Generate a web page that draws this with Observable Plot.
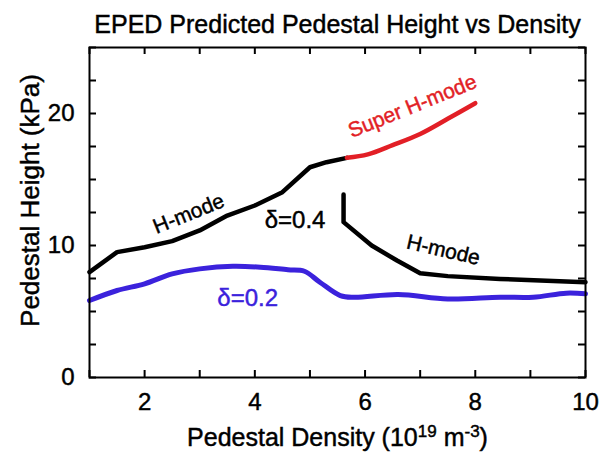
<!DOCTYPE html>
<html>
<head>
<meta charset="utf-8">
<script src="https://cdn.jsdelivr.net/npm/d3@7"></script>
<script src="https://cdn.jsdelivr.net/npm/@observablehq/plot@0.6"></script>
<style>
  html, body { margin: 0; padding: 0; background: #fff; }
  #chart svg { display: block; }
</style>
</head>
<body>
<div id="chart"></div>
<script>
// δ=0.4, lower H-mode branch (black)
const hmodeLowDensity = [1.0, 1.5, 2.0, 2.5, 3.0, 3.5, 4.0, 4.5, 5.0, 5.3, 5.67];
const hmodeLowHeight  = [7.98, 9.5, 9.87, 10.33, 11.14, 12.27, 13.03, 14.04, 15.93, 16.31, 16.64];
// δ=0.4, Super H-mode branch (red)
const superDensity = [5.67, 6.05, 6.5, 7.0, 7.5, 8.0];
const superHeight  = [16.64, 16.9, 17.6, 18.45, 19.6, 20.78];
// δ=0.4, upper-density H-mode branch (black)
const hmodeHighDensity = [5.61, 5.61, 6.12, 6.58, 7.0, 7.5, 8.45, 10.0];
const hmodeHighHeight  = [13.86, 11.77, 10.0, 8.86, 7.9, 7.68, 7.47, 7.22];
// δ=0.2 (blue)
const d02Density = [1.0, 1.5, 2.0, 2.5, 3.0, 3.6, 4.1, 4.6, 4.9, 5.18, 5.55, 5.8, 6.6, 7.5, 8.45, 9.05, 9.65, 10.0];
const d02Height  = [5.83, 6.59, 7.1, 7.85, 8.23, 8.43, 8.36, 8.16, 8.05, 7.22, 6.21, 6.08, 6.29, 5.95, 6.08, 6.08, 6.39, 6.34];

// ticks
const xTicks = [1, 2, 3, 4, 5, 6, 7, 8, 9, 10];
const xTickLabels = [2, 4, 6, 8, 10];
const yTicks = [0, 2.5, 5, 7.5, 10, 12.5, 15, 17.5, 20, 22.5, 25];
const yTickLabels = [0, 10, 20];

// annotations
const annText = ["H-mode", "δ=0.4", "Super H-mode", "H-mode", "δ=0.2"];
const annX = [2.8, 4.73, 6.86, 7.42, 3.87];
const annY = [12.4, 11.9, 20.55, 9.65, 5.98];
const annRotate = [-22, 0, -22, 13, 0];
const annSize = [21, 24, 21, 21, 24];
const annColor = ["#000", "#000", "#e21f26", "#000", "#3b22dc"];

const zip = (xs, ys) => xs.map((x, i) => ({x, y: ys[i]}));
const ann = annText.map((t, i) => ({t, x: annX[i], y: annY[i], r: annRotate[i], s: annSize[i], c: annColor[i]}));

const W = 612, H = 452, mL = 89, mR = 27, mT = 47, mB = 75;
const fw = W - mL - mR, fh = H - mT - mB, tk = 7;

const plot = Plot.plot({
  width: W, height: H,
  marginLeft: mL, marginRight: mR, marginTop: mT, marginBottom: mB,
  style: {fontFamily: "'Liberation Sans', Arial, Helvetica, sans-serif", background: "#fff", color: "#000"},
  x: {domain: [1, 10]},
  y: {domain: [0, 25]},
  marks: [
    // inward ticks
    Plot.tickX(xTicks, {x: d => d, insetTop: fh - tk, stroke: "#000", strokeWidth: 2}),
    Plot.tickX(xTicks, {x: d => d, insetBottom: fh - tk, stroke: "#000", strokeWidth: 2}),
    Plot.tickY(yTicks, {y: d => d, insetRight: fw - tk, stroke: "#000", strokeWidth: 2}),
    Plot.tickY(yTicks, {y: d => d, insetLeft: fw - tk, stroke: "#000", strokeWidth: 2}),
    Plot.axisX({ticks: xTickLabels, tickSize: 0, tickPadding: 15, fontSize: 24, label: null}),
    Plot.axisY({ticks: yTickLabels, tickSize: 0, tickPadding: 15, fontSize: 24, label: null}),
    // curves
    Plot.line(zip(d02Density, d02Height), {x: "x", y: "y", stroke: "#3b22dc", strokeWidth: 5, curve: "catmull-rom"}),
    Plot.line(zip(hmodeLowDensity, hmodeLowHeight), {x: "x", y: "y", stroke: "#000", strokeWidth: 4.5, strokeLinejoin: "round"}),
    Plot.line(zip(superDensity, superHeight), {x: "x", y: "y", stroke: "#e21f26", strokeWidth: 4.5, curve: "catmull-rom"}),
    Plot.line(zip(hmodeHighDensity, hmodeHighHeight), {x: "x", y: "y", stroke: "#000", strokeWidth: 4.5, strokeLinejoin: "round"}),
    // annotations
    Plot.text(ann, {x: "x", y: "y", text: "t", rotate: "r", fontSize: d => d.s, fill: "c"}),
    Plot.frame({stroke: "#000", strokeWidth: 2}),
    // title and axis labels
    Plot.text(["EPED Predicted Pedestal Height vs Density"], {frameAnchor: "top", textAnchor: "middle", lineAnchor: "middle", dy: -23, fontSize: 25, fill: "#000"}),
    Plot.text(["Pedestal Density (10^19 m^-3)"], {frameAnchor: "bottom", textAnchor: "middle", lineAnchor: "middle", dy: 60, fontSize: 25, fill: "#000"}),
    Plot.text(["Pedestal Height (kPa)"], {frameAnchor: "left", textAnchor: "middle", lineAnchor: "middle", dx: -59, dy: -12, rotate: -90, fontSize: 26, fill: "#000"})
  ]
});

// superscripts in the x-axis label
plot.querySelectorAll("text").forEach(el => {
  if (el.textContent === "Pedestal Density (10^19 m^-3)") {
    el.textContent = "";
    const parts = [["Pedestal Density (10", false], ["19", true], [" m", false], ["-3", true], [")", false]];
    const ns = "http://www.w3.org/2000/svg";
    parts.forEach(([s, sup]) => {
      const t = document.createElementNS(ns, "tspan");
      t.textContent = s;
      if (sup) { t.setAttribute("baseline-shift", "super"); t.setAttribute("font-size", "17"); }
      el.appendChild(t);
    });
  }
});

document.getElementById("chart").appendChild(plot);

// slightly heavier glyphs, like the reference
plot.querySelectorAll("text").forEach(el => {
  const f = getComputedStyle(el).fill;
  el.style.stroke = f;
  el.style.strokeWidth = "0.45px";
  el.style.paintOrder = "stroke";
});
</script>
</body>
</html>
